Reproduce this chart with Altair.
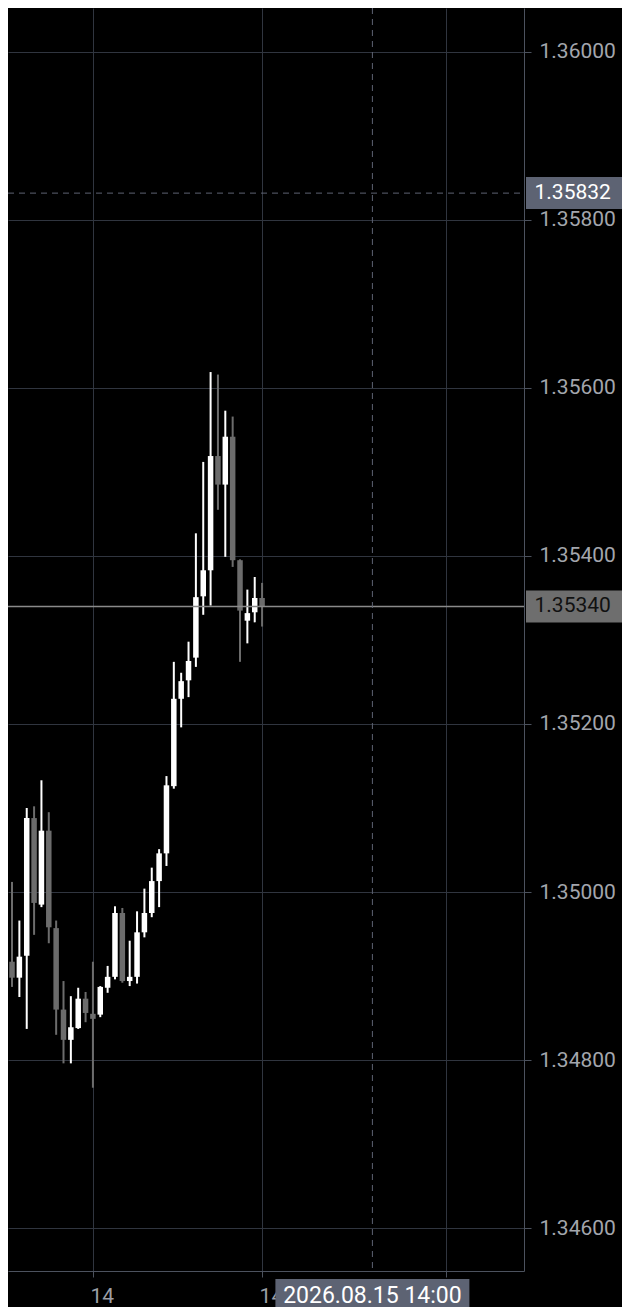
import altair as alt
import pandas as pd

# ---- candle data (hourly bars, index 0..35) ----
candle_index = list(range(36))
opens = [1.34786, 1.34917, 1.34898, 1.34924, 1.35088, 1.34985, 1.35073, 1.34957, 1.34860, 1.34824,
         1.34838, 1.34873, 1.34855, 1.34854, 1.34886, 1.34899, 1.34975, 1.34894, 1.34899, 1.34952,
         1.34975, 1.35013, 1.35046, 1.35126, 1.35230, 1.35252, 1.35279, 1.35352, 1.35383, 1.35519,
         1.35485, 1.35542, 1.35395, 1.35323, 1.35333, 1.35350]
highs = [1.34921, 1.35012, 1.34966, 1.35100, 1.35102, 1.35133, 1.35095, 1.34966, 1.34894, 1.34876,
         1.34886, 1.34881, 1.34917, 1.34888, 1.34912, 1.34983, 1.34981, 1.34942, 1.34977, 1.35004,
         1.35029, 1.35051, 1.35138, 1.35274, 1.35261, 1.35298, 1.35427, 1.35512, 1.35619, 1.35616,
         1.35573, 1.35566, 1.35396, 1.35360, 1.35375, 1.35368]
lows = [1.34782, 1.34887, 1.34875, 1.34837, 1.34949, 1.34982, 1.34939, 1.34830, 1.34796, 1.34796,
        1.34837, 1.34845, 1.34767, 1.34851, 1.34880, 1.34896, 1.34892, 1.34888, 1.34891, 1.34946,
        1.34970, 1.34982, 1.35031, 1.35123, 1.35196, 1.35232, 1.35268, 1.35330, 1.35341, 1.35455,
        1.35399, 1.35387, 1.35274, 1.35296, 1.35321, 1.35316]
closes = [1.34917, 1.34898, 1.34923, 1.35088, 1.34987, 1.35073, 1.34958, 1.34860, 1.34824, 1.34839,
          1.34873, 1.34856, 1.34849, 1.34887, 1.34899, 1.34975, 1.34894, 1.34899, 1.34952, 1.34975,
          1.35013, 1.35046, 1.35127, 1.35230, 1.35251, 1.35275, 1.35351, 1.35383, 1.35519, 1.35485,
          1.35542, 1.35395, 1.35335, 1.35332, 1.35350, 1.35340]

# ---- axes ----
price_ticks = [1.346, 1.348, 1.350, 1.352, 1.354, 1.356, 1.358, 1.360]
time_tick_index = [12, 35, 60]
time_tick_labels = ["14", "14", ""]   # third label is hidden behind the crosshair box

# ---- crosshair / price markers ----
crosshair_index = [50]
crosshair_time_label = ["2026.08.15 14:00"]
crosshair_price = [1.35832]
crosshair_price_label = ["1.35832"]
last_price = [1.35340]
last_price_label = ["1.35340"]

W, H = 516, 1263
FONT = "Roboto"
GRID = "#30353f"
BORDER = "#4c525e"
UP = "#ffffff"
DOWN = "#6c6c6c"
MARKER = "#5d6373"

candles = pd.DataFrame({"k": candle_index, "open": opens, "high": highs,
                        "low": lows, "close": closes})

x_scale = alt.Scale(domain=[1.13333, 69.93333], nice=False, zero=False)
y_scale = alt.Scale(domain=[1.3454881, 1.3605238], nice=False, zero=False)

label_expr = " : ".join(
    f"datum.value == {v} ? '{l}'" for v, l in zip(time_tick_index, time_tick_labels)
) + " : ''"

x_axis = alt.Axis(values=time_tick_index, labelExpr=label_expr, title=None, grid=True,
                  gridColor=GRID, gridWidth=1, domainColor=BORDER, domainWidth=1,
                  tickColor=BORDER, tickSize=6, labelPadding=8, labelAlign="left",
                  labelBaseline="top", labelOffset=-3, labelColor="#9c9fa6",
                  labelFont=FONT, labelFontSize=21, labelFlush=False, labelOverlap=False)
y_axis = alt.Axis(orient="right", values=price_ticks, format=".5f", title=None, grid=True,
                  gridColor=GRID, gridWidth=1, domainColor=BORDER, domainWidth=1,
                  tickColor=BORDER, tickSize=7, labelPadding=8, labelAlign="left",
                  labelBaseline="middle", labelColor="#a3a6ad", labelFont=FONT,
                  labelFontSize=21, labelFlush=False, labelOverlap=False)


def X(field):
    return alt.X(field, scale=x_scale, axis=x_axis)


def Y(field):
    return alt.Y(field, scale=y_scale, axis=y_axis)


up_cond = "datum.close >= datum.open"

wicks = alt.Chart(candles).mark_rule(strokeWidth=2, clip=True).encode(
    x=X("k:Q"), y=Y("low:Q"), y2="high:Q",
    color=alt.condition(up_cond, alt.value(UP), alt.value(DOWN)),
)

bodies = alt.Chart(candles).mark_bar(size=5.5, clip=True).encode(
    x=X("k:Q"), y=Y("open:Q"), y2="close:Q",
    color=alt.condition(up_cond, alt.value(UP), alt.value(DOWN)),
)

last_df = pd.DataFrame({"price": last_price, "label": last_price_label})
cross_p_df = pd.DataFrame({"price": crosshair_price, "label": crosshair_price_label})
cross_t_df = pd.DataFrame({"k": crosshair_index, "label": crosshair_time_label})

last_line = alt.Chart(last_df).mark_rule(color="#8a8a8a", strokeWidth=1.5).encode(
    y=Y("price:Q"), x=alt.value(0), x2=alt.value(W),
)

cross_h = alt.Chart(cross_p_df).mark_rule(color=MARKER, strokeWidth=1, strokeDash=[6, 5]).encode(
    y=Y("price:Q"), x=alt.value(0), x2=alt.value(W),
)

cross_v = alt.Chart(cross_t_df).mark_rule(color=MARKER, strokeWidth=1, strokeDash=[6, 5]).encode(
    x=X("k:Q"), y=alt.value(0), y2=alt.value(H),
)

last_box = alt.Chart(last_df).mark_rect(color="#6e6e6e", yOffset=-16, y2Offset=16).encode(
    y=Y("price:Q"), y2="price:Q",
    x=alt.value(W + 2), x2=alt.value(W + 110),
)
last_text = alt.Chart(last_df).mark_text(
    align="left", baseline="middle", font=FONT, fontSize=21, color="#111111"
).encode(
    y=Y("price:Q"), x=alt.value(W + 10.5), text="label:N",
)

cross_p_box = alt.Chart(cross_p_df).mark_rect(color=MARKER, yOffset=-16, y2Offset=16).encode(
    y=Y("price:Q"), y2="price:Q",
    x=alt.value(W + 2), x2=alt.value(W + 110),
)
cross_p_text = alt.Chart(cross_p_df).mark_text(
    align="left", baseline="middle", font=FONT, fontSize=21, color="#ffffff"
).encode(
    y=Y("price:Q"), x=alt.value(W + 10.5), text="label:N",
)

cross_t_box = alt.Chart(cross_t_df).mark_rect(color=MARKER, xOffset=-97, x2Offset=97).encode(
    x=X("k:Q"), x2="k:Q",
    y=alt.value(H + 8), y2=alt.value(H + 40),
)
cross_t_text = alt.Chart(cross_t_df).mark_text(
    align="center", baseline="middle", font=FONT, fontSize=23, color="#ffffff"
).encode(
    x=X("k:Q"), y=alt.value(H + 24.5), text="label:N",
)

chart = alt.layer(
    wicks, bodies, last_line, cross_h, cross_v,
    last_box, last_text, cross_p_box, cross_p_text, cross_t_box, cross_t_text,
).properties(
    width=W, height=H,
    padding={"left": 0, "top": 0, "right": 98, "bottom": 36},
    autosize=alt.AutoSizeParams(type="none"),
    background="#000000",
).configure_view(strokeWidth=0)

chart.save("out.html", embed_options={"renderer": "svg", "actions": False})
